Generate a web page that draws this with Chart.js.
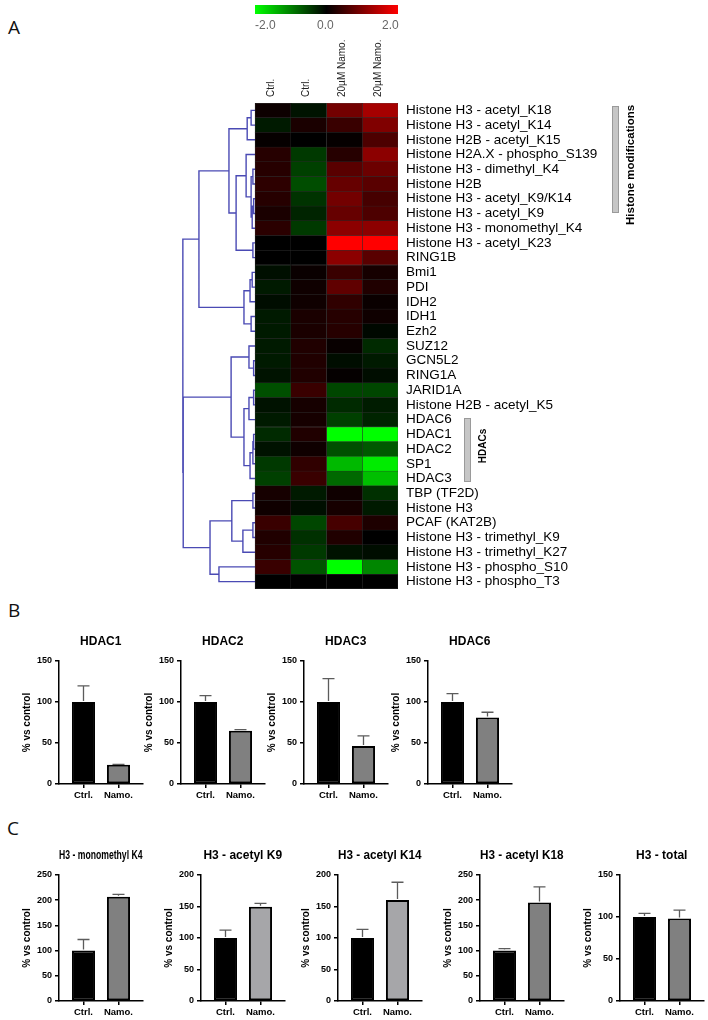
<!DOCTYPE html>
<html>
<head>
<meta charset="utf-8">
<script src="https://cdn.jsdelivr.net/npm/chart.js@4.4.0/dist/chart.umd.min.js"></script>
<style>
body { margin: 0; background: #fff; width: 708px; height: 1020px; position: relative; overflow: hidden; font-family: "Liberation Sans", Arial, sans-serif; }
canvas { position: absolute; }
.letter { position: absolute; font-family: "Open Sans", sans-serif; font-size: 19px; line-height: 19px; color: #111; }
.cb-lab { position: absolute; top: 19px; font-size: 12px; line-height: 12px; color: #666; }
.vtext { position: absolute; font-weight: bold; text-align: center; transform: rotate(-90deg); color: #000; white-space: nowrap; }
.gbar { position: absolute; background: #c6c6c6; border: 1px solid #9a9a9a; box-sizing: border-box; }
</style>
</head>
<body>

<div class="letter" style="left:8px;top:18px">A</div>
<div class="letter" style="left:8px;top:601px">B</div>
<div class="letter" style="left:7px;top:819px">C</div>

<canvas id="heat" width="708" height="606" style="left:0;top:0"></canvas>

<div style="position:absolute;left:255px;top:5px;width:143px;height:9px;background:linear-gradient(to right,#00ff00,#000 50%,#ff0000)"></div>
<div class="cb-lab" style="left:255px">-2.0</div>
<div class="cb-lab" style="left:317px">0.0</div>
<div class="cb-lab" style="left:382px">2.0</div>

<div class="gbar" style="left:612px;top:106px;width:7px;height:107px"></div>
<div class="vtext" style="left:570px;top:157px;width:120px;height:16px;font-size:11.5px;line-height:16px">Histone modifications</div>
<div class="gbar" style="left:464px;top:418px;width:7px;height:64px"></div>
<div class="vtext" style="left:458px;top:439px;width:50px;height:14px;font-size:10px;line-height:14px">HDACs</div>

<canvas id="b0" width="148" height="180" style="left:-1px;top:628px"></canvas>
<canvas id="b1" width="148" height="180" style="left:121px;top:628px"></canvas>
<canvas id="b2" width="148" height="180" style="left:244px;top:628px"></canvas>
<canvas id="b3" width="148" height="180" style="left:368px;top:628px"></canvas>

<canvas id="c0" width="148" height="178" style="left:-1px;top:842px"></canvas>
<canvas id="c1" width="148" height="178" style="left:141px;top:842px"></canvas>
<canvas id="c2" width="148" height="178" style="left:278px;top:842px"></canvas>
<canvas id="c3" width="148" height="178" style="left:420px;top:842px"></canvas>
<canvas id="c4" width="148" height="178" style="left:560px;top:842px"></canvas>

<script>
// heatmap rows and columns
const rowLabels = [
  'Histone H3 - acetyl_K18', 'Histone H3 - acetyl_K14', 'Histone H2B - acetyl_K15',
  'Histone H2A.X - phospho_S139', 'Histone H3 - dimethyl_K4', 'Histone H2B',
  'Histone H3 - acetyl_K9/K14', 'Histone H3 - acetyl_K9', 'Histone H3 - monomethyl_K4',
  'Histone H3 - acetyl_K23', 'RING1B', 'Bmi1', 'PDI', 'IDH2', 'IDH1', 'Ezh2', 'SUZ12',
  'GCN5L2', 'RING1A', 'JARID1A', 'Histone H2B - acetyl_K5', 'HDAC6', 'HDAC1', 'HDAC2',
  'SP1', 'HDAC3', 'TBP (TF2D)', 'Histone H3', 'PCAF (KAT2B)', 'Histone H3 - trimethyl_K9',
  'Histone H3 - trimethyl_K27', 'Histone H3 - phospho_S10', 'Histone H3 - phospho_T3'
];
const colLabels = ['Ctrl.', 'Ctrl.', '20\u00b5M Namo.', '20\u00b5M Namo.'];

// log ratios, -2 (green) .. 2 (red)
const heatCtrl1 = [0.1, -0.2, 0.05, 0.3, 0.3, 0.35, 0.3, 0.2, 0.33, 0, 0,
  -0.12, -0.2, -0.1, -0.2, -0.2, -0.2, -0.2, -0.15, -0.62, -0.14, -0.2,
  -0.33, -0.14, -0.45, -0.5, 0.17, 0.12, 0.45, 0.25, 0.3, 0.45, 0];
const heatCtrl2 = [-0.15, 0.2, 0, -0.45, -0.5, -0.6, -0.4, -0.28, -0.45, 0, 0,
  0.08, 0.12, 0.12, 0.2, 0.2, 0.25, 0.25, 0.25, 0.45, 0.17, 0.17,
  0.25, 0.12, 0.38, 0.45, -0.2, -0.12, -0.55, -0.38, -0.45, -0.65, 0];
const heatNamo1 = [0.9, 0.45, 0.05, 0.3, 0.7, 0.8, 0.9, 0.8, 1.1, 2.0, 1.1,
  0.45, 0.75, 0.38, 0.3, 0.3, 0.06, -0.1, 0.04, -0.55, -0.33, -0.5,
  -2.0, -0.62, -1.45, -0.82, 0.12, 0.17, 0.55, 0.25, -0.14, -2.0, 0];
const heatNamo2 = [1.3, 1.0, 0.6, 1.1, 0.85, 0.7, 0.55, 0.6, 1.1, 2.0, 0.7,
  0.17, 0.25, 0.08, 0.12, -0.06, -0.33, -0.2, -0.1, -0.55, -0.22, -0.28,
  -2.0, -0.7, -1.85, -1.5, -0.38, -0.2, 0.23, 0, -0.1, -1.05, 0];

// dendrogram: [node a, node b, height]; leaves are 0..32, merge k makes node 33+k
const dendroMerges = [
  [0, 1, 0.11], [33, 2, 0.22], [4, 5, 0.06], [6, 7, 0.04], [36, 8, 0.08],
  [35, 37, 0.11], [3, 38, 0.25], [9, 10, 0.06], [39, 40, 0.53], [34, 41, 0.73],
  [11, 12, 0.08], [43, 13, 0.14], [14, 15, 0.11], [44, 45, 0.31], [42, 46, 1.57],
  [17, 18, 0.04], [16, 48, 0.17], [19, 20, 0.04], [50, 21, 0.17], [22, 23, 0.04],
  [52, 24, 0.06], [53, 25, 0.14], [51, 54, 0.31], [49, 55, 0.67], [26, 27, 0.06],
  [28, 29, 0.06], [58, 30, 0.34], [57, 59, 0.65], [31, 32, 1.01], [60, 61, 1.26],
  [56, 62, 2.01], [47, 63, 2.02]
];

// bar panels
const barLabels = ['Ctrl.', 'Namo.'];
const hdacTitles = ['HDAC1', 'HDAC2', 'HDAC3', 'HDAC6'];
const hdacMeans = [[100, 23.5], [100, 64.8], [100, 46.2], [100, 81]];
const hdacErrs = [[19.6, 0.4], [7.8, 1.6], [28.4, 12.5], [10.2, 6.5]];
const hdacMax = [150, 150, 150, 150];
const histTitles = ['H3 - monomethyl K4', 'H3 - acetyl K9', 'H3 - acetyl K14', 'H3 - acetyl K18', 'H3 - total'];
const histMeans = [[100, 206.8], [100, 149.8], [100, 160.4], [100, 195.6], [100, 98.3]];
const histErrs = [[22, 4.7], [12.6, 5.2], [13.7, 28.1], [4, 31], [4.3, 9.9]];
const histMax = [250, 200, 200, 250, 150];
const histNamoColor = ['#808080', '#a6a6a9', '#a6a6a9', '#808080', '#808080'];

Chart.defaults.font.family = "'Liberation Sans', Arial, sans-serif";
Chart.defaults.color = '#000';
Chart.defaults.animation = false;
Chart.defaults.plugins.legend.display = false;
Chart.defaults.plugins.tooltip.enabled = false;

function heatColor(v) {
  const t = Math.min(1, Math.abs(v) / 2);
  const c = Math.round(255 * t);
  return v >= 0 ? 'rgb(' + c + ',0,0)' : 'rgb(0,' + c + ',0)';
}

// dendrogram path from the merge list
const nLeaves = rowLabels.length;
const nodeY = [], nodeH = [];
for (let i = 0; i < nLeaves; i++) { nodeY[i] = i; nodeH[i] = 0; }
const dendroPts = [];
dendroMerges.forEach(([a, b, h], k) => {
  const id = nLeaves + k;
  nodeY[id] = (nodeY[a] + nodeY[b]) / 2;
  nodeH[id] = h;
  dendroPts.push({ x: -nodeH[a], y: nodeY[a] }, { x: -h, y: nodeY[a] },
    { x: -h, y: nodeY[b] }, { x: -nodeH[b], y: nodeY[b] }, { x: null, y: null });
});

const heatCols = [heatCtrl1, heatCtrl2, heatNamo1, heatNamo2];
const heatSets = heatCols.map((vals, c) => ({
  type: 'bar',
  indexAxis: 'y',
  grouped: false,
  data: vals.map((v, r) => ({ x: [c, c + 1], y: r })),
  backgroundColor: vals.map(heatColor),
  borderColor: '#2e2e2e',
  borderWidth: 0.5,
  borderSkipped: false,
  barPercentage: 1,
  categoryPercentage: 1
}));
heatSets.push({
  type: 'scatter',
  showLine: true,
  spanGaps: false,
  data: dendroPts,
  borderColor: '#4a4ab4',
  borderWidth: 1.4,
  pointRadius: 0,
  tension: 0
});

new Chart(document.getElementById('heat'), {
  type: 'bar',
  data: { datasets: heatSets },
  options: {
    responsive: false,
    layout: { padding: { left: 180, top: 0, right: 0, bottom: 17 } },
    scales: {
      x: {
        type: 'linear', position: 'top', min: -2.1, max: 4, offset: false,
        afterBuildTicks: s => { s.ticks = colLabels.map((_, i) => ({ value: i + 0.5 })); },
        afterFit: s => { s.height = 103; },
        ticks: { autoSkip: false, minRotation: 90, maxRotation: 90, padding: 6, labelOffset: 10, color: '#222',
          font: { size: 10 }, callback: (v, i) => colLabels[i] },
        grid: { display: false, drawTicks: false, offset: false },
        border: { display: false }
      },
      y: {
        type: 'linear', position: 'right', reverse: true, min: -0.5, max: nLeaves - 0.5, offset: false,
        afterBuildTicks: s => { s.ticks = rowLabels.map((_, i) => ({ value: i })); },
        afterFit: s => { s.width = 310; },
        ticks: { autoSkip: false, padding: 8, color: '#000', font: { size: 13.5 },
          callback: (v, i) => rowLabels[i] },
        grid: { display: false, drawTicks: false, offset: false },
        border: { display: false }
      }
    }
  }
});

// one-sided error bars
const errorBars = {
  id: 'errorBars',
  afterDatasetsDraw(chart) {
    const ctx = chart.ctx;
    const ys = chart.scales.y;
    chart.data.datasets.forEach((ds, di) => {
      if (!ds.errors) return;
      chart.getDatasetMeta(di).data.forEach((bar, i) => {
        const v = ds.data[i].y;
        const top = ys.getPixelForValue(v + ds.errors[i]);
        const base = ys.getPixelForValue(v) - 1;
        ctx.save();
        ctx.strokeStyle = '#5c5c5c';
        ctx.lineWidth = 1.3;
        ctx.beginPath();
        ctx.moveTo(bar.x, base);
        ctx.lineTo(bar.x, top);
        ctx.moveTo(bar.x - 6, top);
        ctx.lineTo(bar.x + 6, top);
        ctx.stroke();
        ctx.restore();
      });
    });
  }
};

function smallBar(id, title, means, errs, yMax, namoColor, xh, titleFamily) {
  new Chart(document.getElementById(id), {
    type: 'bar',
    data: {
      datasets: [{
        data: means.map((v, i) => ({ x: i + 1, y: v })),
        errors: errs,
        backgroundColor: ['#000000', namoColor],
        borderColor: '#000',
        borderWidth: 2,
        borderSkipped: false,
        barPercentage: 0.66,
        categoryPercentage: 1
      }]
    },
    options: {
      responsive: false,
      layout: { padding: { left: 22, right: 4.5, top: 0, bottom: 0 } },
      plugins: {
        title: { display: true, fullSize: false, text: title, color: '#000',
          font: { size: 12, weight: 'bold', family: titleFamily },
          padding: { top: 6, bottom: 12.6 } }
      },
      scales: {
        x: {
          type: 'linear', min: 0.3, max: 2.686, offset: false,
          afterBuildTicks: s => { s.ticks = barLabels.map((_, i) => ({ value: i + 1 })); },
          afterFit: s => { s.height = xh; },
          ticks: { autoSkip: false, maxRotation: 0, padding: 2, color: '#000',
            font: { size: 9.5, weight: 'bold' }, callback: (v, i) => barLabels[i] },
          grid: { drawOnChartArea: false, drawTicks: true, tickLength: 4, color: '#000', lineWidth: 1.5, offset: false },
          border: { color: '#000', width: 1.5 }
        },
        y: {
          min: 0, max: yMax,
          afterFit: s => { s.width = 38; },
          ticks: { stepSize: 50, padding: 3, color: '#000', font: { size: 9, weight: 'bold' } },
          grid: { drawOnChartArea: false, drawTicks: true, tickLength: 4, color: '#000', lineWidth: 1.5, offset: false },
          border: { color: '#000', width: 1.5 },
          title: { display: true, text: '% vs control', color: '#000', padding: 0,
            font: { size: 10, weight: 'bold' } }
        }
      }
    },
    plugins: [errorBars]
  });
}

hdacTitles.forEach((t, i) => {
  smallBar('b' + i, t, hdacMeans[i], hdacErrs[i], hdacMax[i], '#808080', 24);
});
histTitles.forEach((t, i) => {
  const fam = i === 0 ? "'Liberation Sans Narrow', 'Liberation Sans', Arial, sans-serif" : undefined;
  smallBar('c' + i, t, histMeans[i], histErrs[i], histMax[i], histNamoColor[i], 19, fam);
});
</script>
</body>
</html>
